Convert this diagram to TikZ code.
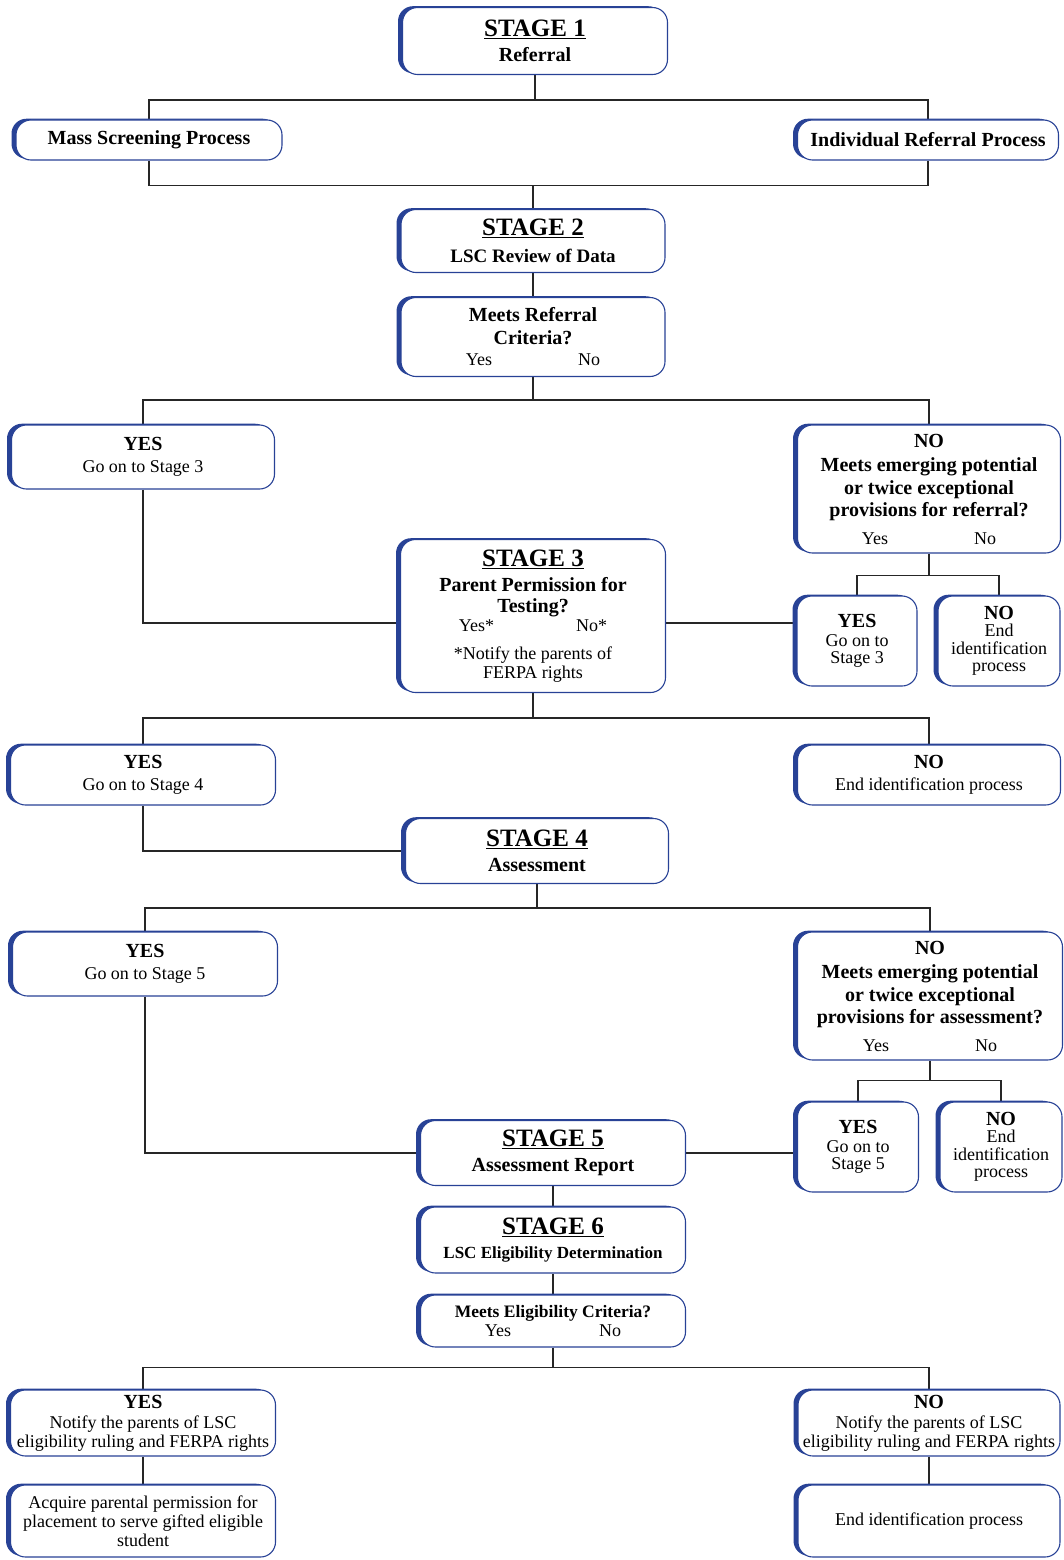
\documentclass[tikz,border=0pt]{standalone}
\usepackage{fontspec}
\setmainfont{Liberation Serif}
\usetikzlibrary{positioning,backgrounds,calc}
\definecolor{stageblue}{RGB}{40,66,150}
\newcommand{\stagehd}[1]{{\fontsize{25}{27}\selectfont\bfseries\underline{#1}}}
\newcommand{\bt}[2][20]{{\fontsize{#1}{22}\selectfont\bfseries #2}}

\begin{document}
\begin{tikzpicture}[x=1pt,y=-1pt,font=\fontsize{18}{22.5}\selectfont,
  box/.style 2 args={draw=stageblue,line width=1.1pt,fill=white,rounded corners=15pt,
    align=center,inner sep=1pt,minimum width=#1,minimum height=#2,
    preaction={fill=stageblue,transform canvas={xshift=-4.5pt,yshift=1.3pt}}},
  tight/.style={font=\fontsize{18}{17.5}\selectfont},
  snug/.style={font=\fontsize{18}{19}\selectfont},
  link/.style={line width=1.3pt,black!85}]
\useasboundingbox (0,0) rectangle (1063,1560);
% stage 1 and the two referral routes
\node[box={265pt}{67pt}] (s1) at (535,41) {\stagehd{STAGE 1}\\[2pt] \bt{Referral}};
\node[box={266pt}{40pt}] (mass) at (149,140) {\bt{Mass Screening Process}};
\node[box={261pt}{40pt}] (indiv) at (928,140) {\bt{Individual Referral Process}};
% stage 2
\node[box={264pt}{63pt}] (s2) at (533,241) {\stagehd{STAGE 2}\\[5pt] \bt[19]{LSC Review of Data}};
\node[box={264pt}{79pt}] (crit) at (533,337) {\bt{Meets Referral}\\ \bt{Criteria?}\\[-1pt] Yes\hspace{86pt}No};
\node[box={263pt}{64pt}] (yes3) at (143,457) {\bt{YES}\\ Go on to Stage 3};
\node[box={263pt}{128pt}] (no3) at (929,489) {\bt{NO}\\[2pt] \bt{Meets emerging potential}\\ \bt{or twice exceptional}\\ \bt{provisions for referral?}\\[5pt] Yes\hspace{86pt}No};
\node[box={120pt}{90pt},tight] (yes3s) at (857,641) {\bt{YES}\\[1pt] Go on to\\ Stage 3};
\node[box={122pt}{90pt},tight] (no3s) at (999,641) {\bt{NO}\\ End\\ identification\\ process};
% stage 3
\node[box={265pt}{153pt},snug] (s3) at (533,616) {\stagehd{STAGE 3}\\[6pt] \bt{Parent Permission for}\\[2pt] \bt{Testing?}\\ Yes*\hspace{82pt}No*\\[9pt] *Notify the parents of\\ FERPA rights};
\coordinate (s3l) at ([yshift=-7pt]s3.west);
\coordinate (s3r) at ([yshift=-7pt]s3.east);
\node[box={265pt}{60pt}] (yes4) at (143,775) {\bt{YES}\\ Go on to Stage 4};
\node[box={263pt}{60pt}] (no4) at (929,775) {\bt{NO}\\ End identification process};
% stage 4
\node[box={263pt}{65pt}] (s4) at (537,851) {\stagehd{STAGE 4}\\[2pt] \bt{Assessment}};
\node[box={265pt}{64pt}] (yes5) at (145,964) {\bt{YES}\\ Go on to Stage 5};
\node[box={265pt}{128pt}] (no5) at (930,996) {\bt{NO}\\[2pt] \bt{Meets emerging potential}\\ \bt{or twice exceptional}\\ \bt{provisions for assessment?}\\[5pt] Yes\hspace{86pt}No};
\node[box={121pt}{90pt},tight] (yes5s) at (858,1147) {\bt{YES}\\[1pt] Go on to\\ Stage 5};
\node[box={122pt}{90pt},tight] (no5s) at (1001,1147) {\bt{NO}\\ End\\ identification\\ process};
% stages 5 and 6
\node[box={265pt}{65pt}] (s5) at (553,1153) {\stagehd{STAGE 5}\\[3pt] \bt{Assessment Report}};
\node[box={265pt}{66pt}] (s6) at (553,1240) {\stagehd{STAGE 6}\\[2pt] \bt[17]{LSC Eligibility Determination}};
\node[box={265pt}{52pt},snug] (elig) at (553,1321) {\bt[17.5]{Meets Eligibility Criteria?}\\ Yes\hspace{88pt}No};
\node[box={265pt}{66pt},snug] (yesN) at (143,1423) {\bt{YES}\\[1pt] Notify the parents of LSC\\ eligibility ruling and FERPA rights};
\node[box={262pt}{66pt},snug] (noN) at (929,1423) {\bt{NO}\\[1pt] Notify the parents of LSC\\ eligibility ruling and FERPA rights};
\node[box={265pt}{72pt},snug] (acq) at (143,1521) {Acquire parental permission for\\ placement to serve gifted eligible\\ student};
\node[box={262pt}{72pt}] (endN) at (929,1521) {End identification process};
% connectors
\begin{scope}[on background layer]
\draw[link] (s1.south) -- ++(0,25) -| (mass.north);
\draw[link] (s1.south) -- ++(0,25) -| (indiv.north);
\draw[link] (mass.south) -- ++(0,25) -| (s2.north);
\draw[link] (indiv.south) -- ++(0,25) -| (s2.north);
\draw[link] (s2) -- (crit);
\draw[link] (crit.south) -- ++(0,23) -| (yes3.north);
\draw[link] (crit.south) -- ++(0,23) -| (no3.north);
\draw[link] (yes3.south) |- (s3l);
\draw[link] (s3r) -- (s3r -| yes3s.west);
\draw[link] (no3.south) -- ++(0,22) -| (yes3s.north);
\draw[link] (no3.south) -- ++(0,22) -| (no3s.north);
\draw[link] (s3.south) -- ++(0,25) -| (yes4.north);
\draw[link] (s3.south) -- ++(0,25) -| (no4.north);
\draw[link] (yes4.south) |- (s4.west);
\draw[link] (s4.south) -- ++(0,24) -| (yes5.north);
\draw[link] (s4.south) -- ++(0,24) -| (no5.north);
\draw[link] (no5.south) -- ++(0,20) -| (yes5s.north);
\draw[link] (no5.south) -- ++(0,20) -| (no5s.north);
\draw[link] (yes5.south) |- (s5.west);
\draw[link] (s5.east) -- (s5.east -| yes5s.west);
\draw[link] (s5) -- (s6);
\draw[link] (s6) -- (elig);
\draw[link] (elig.south) -- ++(0,20) -| (yesN.north);
\draw[link] (elig.south) -- ++(0,20) -| (noN.north);
\draw[link] (yesN) -- (acq);
\draw[link] (noN) -- (endN);
\end{scope}
\end{tikzpicture}
\end{document}
